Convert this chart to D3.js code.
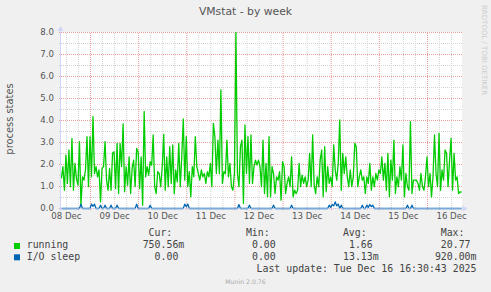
<!DOCTYPE html>
<html>
<head>
<meta charset="utf-8">
<script src="https://cdn.jsdelivr.net/npm/d3@7"></script>
<style>
  body { margin: 0; background: #f0f0f0; }
  svg { display: block; }
</style>
</head>
<body>
<div id="chart"></div>
<script>
"use strict";

// 45 minute averages, first sample Mon Dec 08 09:30 (UTC)
var start_time = Date.UTC(2025, 11, 8, 9, 30);
var step_minutes = 45;

var running = [
  1.37,1.90,0.83,2.43,1.14,2.66,0.99,3.19,0.83,2.05,
  1.37,1.06,3.04,0.15,1.44,1.29,1.75,3.27,0.99,3.27,
  1.44,4.18,1.59,1.90,1.44,1.75,0.30,1.82,1.90,3.04,
  1.29,0.83,1.82,0.83,2.51,2.58,0.91,2.96,0.68,2.96,
  1.90,3.84,0.76,1.90,1.06,2.35,0.68,1.82,2.20,0.99,
  2.73,2.58,0.91,2.35,0.15,4.41,1.44,1.90,1.52,2.13,
  1.97,3.34,0.99,0.68,1.67,1.59,0.99,1.90,3.37,0.83,
  2.35,0.99,2.81,1.14,2.89,0.68,1.75,1.21,2.96,0.99,
  2.35,4.07,1.29,3.27,0.99,1.67,0.53,1.90,1.44,3.27,
  1.90,1.59,1.29,1.75,1.44,1.59,1.14,1.67,1.44,2.05,
  0.99,3.87,3.27,1.59,3.11,1.59,5.39,1.14,1.67,1.59,
  3.11,1.44,2.05,0.99,0.83,1.59,8.00,1.59,0.99,2.81,
  3.11,0.23,3.80,1.59,3.27,1.14,3.34,1.14,1.90,2.20,
  1.97,2.20,1.90,0.99,
  3.11,0.68,2.05,0.53,3.27,0.53,1.90,1.59,0.68,1.44,
  1.29,1.67,0.38,2.13,1.90,0.68,1.14,1.44,0.99,2.35,
  0.53,0.83,0.68,0.83,2.05,0.99,1.52,1.14,1.44,0.99,
  1.29,2.51,0.99,3.34,1.06,0.68,1.44,0.99,2.20,2.66,
  0.53,2.81,0.76,1.90,1.14,1.44,0.99,2.89,1.75,1.29,
  2.05,4.03,0.83,2.51,1.59,2.35,1.44,0.99,1.75,0.99,
  1.44,2.96,2.81,0.99,1.44,1.75,1.29,1.44,0.68,1.44,
  1.14,2.05,0.83,1.44,0.99,1.59,1.29,1.75,1.59,2.35,
  1.29,2.05,0.83,2.51,0.53,2.20,1.29,3.11,0.68,1.44,
  0.99,1.90,1.29,2.89,0.53,1.59,0.99,0.83,3.95,0.68,
  1.29,1.29,1.29,1.14,0.83,1.59,0.99,0.83,1.44,2.35,
  0.99,1.59,0.53,1.44,3.34,1.59,0.99,3.42,0.83,1.75,
  1.29,2.66,2.51,0.99,2.20,3.19,0.83,2.51,1.29,1.44,
  0.68,0.76,0.75
];

var io_sleep = [
  0,0,0,0,0,0,0,0,0,0,
  0,0,0,0.2,0,0,0,0,0,0,
  0.2,0.1,0.2,0,0,0,0.15,0,0,0.15,
  0,0,0,0.15,0,0,0,0.15,0,0,
  0,0,0,0,0,0,0,0,0,0,
  0.2,0,0,0,0,0,0,0,0,0.15,
  0,0,0,0,0,0,0,0,0,0,
  0,0,0,0,0,0,0,0,0,0,
  0,0,0.2,0.08,0.2,0,0,0,0,0,
  0,0,0,0,0,0,0,0,0,0,
  0,0,0,0,0,0,0,0,0,0,
  0,0,0,0,0,0,0,0,0.18,0,
  0,0,0,0,0,0.15,0,0,0,0,
  0,0,0,0,0,0,0,0,0,0,
  0,0.15,0,0,0,0,0,0,0,0,
  0,0,0,0.15,0,0,0,0,0,0,
  0,0,0,0,0,0,0,0,0,0,
  0,0,0,0,0,0,0,0,0.15,0.05,
  0.18,0.12,0.3,0.12,0.2,0,0.15,0,0,0,
  0,0,0,0,0,0,0,0,0,0,
  0.15,0,0,0.15,0.05,0.18,0.08,0.15,0,0,
  0,0,0,0,0,0,0,0,0,0,
  0,0,0,0,0,0,0,0,0,0,
  0.15,0,0,0.15,0,0,0,0,0,0,
  0,0,0,0,0,0,0,0,0,0,
  0,0,0,0,0,0,0,0,0,0,
  0,0,0,0,0,0,0
];

var y_ticks = [0, 1, 2, 3, 4, 5, 6, 7, 8];
var y_minor = [0.5, 1.5, 2.5, 3.5, 4.5, 5.5, 6.5, 7.5];
var x_labels = ["08 Dec", "09 Dec", "10 Dec", "11 Dec", "12 Dec", "13 Dec", "14 Dec", "15 Dec", "16 Dec"];

var series_names = ["running", "I/O sleep"];
var stat_headers = ["Cur:", "Min:", "Avg:", "Max:"];
var stat_running = ["750.56m", "0.00 ", "1.66 ", "20.77 "];
var stat_io_sleep = ["0.00 ", "0.00 ", "13.13m", "920.00m"];
var last_update = "Last update: Tue Dec 16 16:30:43 2025";
var title = "VMstat - by week";
var y_title = "process states";
var version = "Munin 2.0.76";
var side_mark = "RRDTOOL / TOBI OETIKER";

var width = 491, height = 292;
var font = "DejaVu Sans";
var mono = "DejaVu Sans Mono";
var grid_color = "#d2d2d2";
var mgrid_color = "#ee9c9c";
var axis_color = "#cfd6f8";
var colors = ["#00cc00", "#0066b3"];

var svg = d3.select("#chart").append("svg")
  .attr("width", width)
  .attr("height", height);

svg.append("rect").attr("width", width).attr("height", height).attr("fill", "#f0f0f0");

// scales
var x = d3.scaleUtc()
  .domain([Date.UTC(2025, 11, 9), Date.UTC(2025, 11, 16)])
  .range([90, 427]);
var y = d3.scaleLinear().domain([0, 8]).range([208, 32]);
var t_left = x.invert(61), t_right = x.invert(461);

// canvas
svg.append("rect")
  .attr("x", 61).attr("y", 32)
  .attr("width", 401).attr("height", 177)
  .attr("fill", "#ffffff");

function grid_style(g, color) {
  g.select(".domain").remove();
  g.selectAll(".tick line")
    .attr("stroke", color)
    .attr("stroke-dasharray", "1,1");
}

// minor grid
svg.append("g")
  .attr("transform", "translate(59,0)")
  .call(d3.axisLeft(y).tickValues(y_minor).tickSize(-404).tickFormat(""))
  .call(g => grid_style(g, grid_color));

var hours6 = d3.utcHour.every(6).range(t_left, t_right).filter(d => d.getUTCHours() != 0);
svg.append("g")
  .attr("transform", "translate(0,210)")
  .call(d3.axisBottom(x).tickValues(hours6).tickSize(-178).tickFormat(""))
  .call(g => grid_style(g, grid_color));

// major grid + y labels
svg.append("g")
  .attr("transform", "translate(59,0)")
  .call(d3.axisLeft(y).tickValues(y_ticks).tickSize(-404).tickPadding(5).tickFormat(d3.format(".1f")))
  .call(g => grid_style(g, mgrid_color))
  .attr("font-family", font)
  .attr("font-size", 8.6)
  .call(g => g.selectAll("text").attr("fill", "#555"));

var days = d3.utcDay.range(t_left, t_right);
svg.append("g")
  .attr("transform", "translate(0,210)")
  .call(d3.axisBottom(x).tickValues(days).tickSize(-178).tickFormat(""))
  .call(g => grid_style(g, mgrid_color));

// x labels at midday
var noons = x_labels.map((d, i) => new Date(Date.UTC(2025, 11, 8 + i, 12)));
svg.append("g")
  .attr("transform", "translate(0,210)")
  .call(d3.axisBottom(x).tickValues(noons).tickSize(0).tickPadding(3).tickFormat((d, i) => x_labels[i]))
  .call(g => g.select(".domain").remove())
  .attr("font-family", font)
  .attr("font-size", 8.6)
  .call(g => g.selectAll("text").attr("fill", "#555"));

// data lines
svg.append("clipPath").attr("id", "clip")
  .append("rect").attr("x", 61).attr("y", 32).attr("width", 401).attr("height", 178);

var step_ms = step_minutes * 60 * 1000;
var all_series = [running, io_sleep].map(function(values, k) {
  return {
    name: series_names[k],
    values: values.map(function(v, i) { return {t: start_time + i * step_ms, v: v}; })
  };
});

var line = d3.line()
  .x(function(d) { return x(d.t) + 0.5; })
  .y(function(d) { return y(d.v) + 0.5; });

svg.append("g")
  .attr("clip-path", "url(#clip)")
  .selectAll("path")
  .data(all_series)
  .enter()
  .append("path")
    .attr("d", function(d) { return line(d.values); })
    .attr("fill", "none")
    .attr("stroke", function(d, i) { return colors[i]; })
    .attr("stroke-width", 1.3)
    .attr("stroke-linejoin", "round");

// axes and arrows
svg.append("line")
  .attr("x1", 58).attr("x2", 463).attr("y1", 208.5).attr("y2", 208.5)
  .attr("stroke", axis_color).attr("stroke-opacity", 0.6);
svg.append("line")
  .attr("x1", 60.5).attr("x2", 60.5).attr("y1", 211).attr("y2", 30)
  .attr("stroke", axis_color);
svg.append("path")
  .attr("d", "M57.5,31L63.5,31L60.5,26Z")
  .attr("fill", axis_color);
svg.append("path")
  .attr("d", "M462.5,205.5L462.5,211.5L467.5,208.5Z")
  .attr("fill", axis_color);

// titles
svg.append("text")
  .attr("x", 245.5).attr("y", 15)
  .attr("text-anchor", "middle")
  .attr("font-family", font).attr("font-size", 10.8)
  .attr("fill", "#555")
  .text(title);

svg.append("text")
  .attr("transform", "translate(13,119) rotate(-90)")
  .attr("text-anchor", "middle")
  .attr("font-family", font).attr("font-size", 9.9)
  .attr("fill", "#555")
  .text(y_title);

svg.append("text")
  .attr("transform", "translate(482,5) rotate(90)")
  .attr("font-family", font).attr("font-size", 7)
  .attr("fill", "#cccccc")
  .text(side_mark);

// legend
var col_right = [184.3, 281.7, 378.7, 476.5];
var legend = svg.append("g")
  .attr("font-family", mono)
  .attr("font-size", 9.9)
  .attr("fill", "#444")
  .style("white-space", "pre");

legend.selectAll(".hdr")
  .data(stat_headers)
  .enter().append("text")
    .attr("x", (d, i) => col_right[i] - 12)
    .attr("y", 236.3)
    .attr("text-anchor", "end")
    .text(d => d);

[stat_running, stat_io_sleep].forEach(function(stats, k) {
  var yy = 248.2 + k * 11.4;
  legend.append("rect")
    .attr("x", 14).attr("y", 243 + k * 11.3)
    .attr("width", 6).attr("height", 6)
    .attr("fill", colors[k]);
  legend.append("text")
    .attr("x", 26.7).attr("y", yy)
    .text(series_names[k]);
  legend.selectAll(".row" + k)
    .data(stats)
    .enter().append("text")
      .attr("x", (d, i) => col_right[i])
      .attr("y", yy)
      .attr("text-anchor", "end")
      .attr("xml:space", "preserve")
      .text(d => d);
});

legend.append("text")
  .attr("x", 476.5).attr("y", 271.6)
  .attr("text-anchor", "end")
  .text(last_update);

svg.append("text")
  .attr("x", 245.5).attr("y", 283.5)
  .attr("text-anchor", "middle")
  .attr("font-family", font).attr("font-size", 6.2)
  .attr("fill", "#aaaaaa")
  .text(version);
</script>
</body>
</html>
